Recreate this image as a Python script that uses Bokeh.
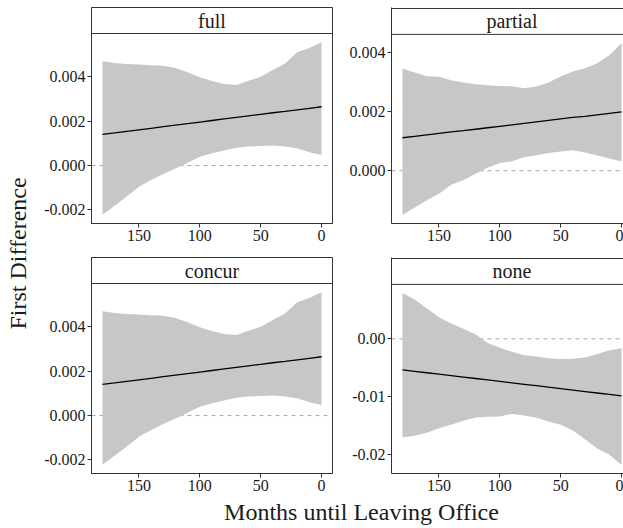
import math

from bokeh.core.properties import value
from bokeh.embed import file_html
from bokeh.layouts import column, row
from bokeh.models import FixedTicker, NumeralTickFormatter, Range1d, Span
from bokeh.plotting import figure
from bokeh.resources import INLINE

# ---------------------------------------------------------------------------
# Data: first-difference estimates with confidence band, by months left in office
# ---------------------------------------------------------------------------
months = [180, 170, 160, 150, 140, 130, 120, 110, 100, 90,
          80, 70, 60, 50, 40, 30, 20, 10, 0]

full_est = [0.00141, 0.00147, 0.00154, 0.00161, 0.00168, 0.00175, 0.00182, 0.00189, 0.00196, 0.00203,
            0.00210, 0.00217, 0.00224, 0.00231, 0.00238, 0.00244, 0.00251, 0.00258, 0.00265]
full_lo = [-0.00222, -0.00181, -0.00139, -0.00095, -0.00065, -0.00038, -0.00013, 0.00013, 0.00040, 0.00055,
           0.00068, 0.00080, 0.00086, 0.00088, 0.00090, 0.00086, 0.00078, 0.00060, 0.00048]
full_hi = [0.00470, 0.00462, 0.00458, 0.00455, 0.00452, 0.00450, 0.00440, 0.00420, 0.00398, 0.00381,
           0.00368, 0.00363, 0.00382, 0.00400, 0.00430, 0.00460, 0.00510, 0.00530, 0.00556]

partial_est = [0.00112, 0.00117, 0.00122, 0.00127, 0.00132, 0.00136, 0.00141, 0.00146, 0.00151, 0.00156,
               0.00161, 0.00166, 0.00171, 0.00176, 0.00181, 0.00185, 0.00190, 0.00195, 0.00200]
partial_lo = [-0.00150, -0.00125, -0.00100, -0.00078, -0.00048, -0.00032, -0.00010, 0.00010, 0.00026, 0.00032,
              0.00046, 0.00053, 0.00060, 0.00065, 0.00070, 0.00062, 0.00052, 0.00042, 0.00031]
partial_hi = [0.00347, 0.00334, 0.00321, 0.00319, 0.00307, 0.00300, 0.00294, 0.00290, 0.00288, 0.00287,
              0.00280, 0.00286, 0.00300, 0.00320, 0.00337, 0.00348, 0.00365, 0.00392, 0.00434]

concur_est = [0.00141, 0.00147, 0.00154, 0.00161, 0.00168, 0.00175, 0.00182, 0.00189, 0.00196, 0.00203,
              0.00210, 0.00217, 0.00224, 0.00231, 0.00238, 0.00244, 0.00251, 0.00258, 0.00265]
concur_lo = [-0.00222, -0.00181, -0.00139, -0.00095, -0.00065, -0.00038, -0.00013, 0.00013, 0.00040, 0.00055,
             0.00068, 0.00080, 0.00086, 0.00088, 0.00090, 0.00086, 0.00078, 0.00060, 0.00048]
concur_hi = [0.00470, 0.00462, 0.00458, 0.00455, 0.00452, 0.00450, 0.00440, 0.00420, 0.00398, 0.00381,
             0.00368, 0.00363, 0.00382, 0.00400, 0.00430, 0.00460, 0.00510, 0.00530, 0.00556]

none_est = [-0.00537, -0.00562, -0.00587, -0.00612, -0.00637, -0.00662, -0.00687, -0.00712, -0.00737, -0.00762,
            -0.00787, -0.00812, -0.00838, -0.00863, -0.00888, -0.00913, -0.00938, -0.00963, -0.00988]
none_lo = [-0.01710, -0.01680, -0.01625, -0.01550, -0.01490, -0.01420, -0.01362, -0.01350, -0.01347, -0.01300,
           -0.01330, -0.01365, -0.01430, -0.01490, -0.01590, -0.01740, -0.01900, -0.02010, -0.02184]
none_hi = [0.00795, 0.00680, 0.00530, 0.00375, 0.00265, 0.00175, 0.00080, -0.00070, -0.00155, -0.00225,
           -0.00285, -0.00305, -0.00335, -0.00350, -0.00345, -0.00322, -0.00262, -0.00198, -0.00163]

x_ticks = [150, 100, 50, 0]
y_ticks_small = [-0.002, 0.0, 0.002, 0.004]
y_ticks_none = [-0.02, -0.01, 0.0]

x_title = "Months until Leaving Office"
y_title = "First Difference"

# ---------------------------------------------------------------------------
# Styling / geometry
# ---------------------------------------------------------------------------
FONT = "Liberation Serif"
AXIS_FONT = '"Liberation Serif", serif'
TEXT_COLOR = "#1a1a1a"
FRAME_COLOR = "#333333"
BAND_COLOR = "#c7c7c7"
ZERO_COLOR = "#a6a6a6"

PANEL_PX = 190          # height of the plotting area below the strip
STRIP_PX = 26           # height of the facet strip
FIG_H = 250
LEFT_W, RIGHT_W = 300, 283
BORDER_L = 51
X_START, X_END = 189.0, -9.0     # reversed month axis with padding
LEFT_FRAME_W = LEFT_W - BORDER_L - 8
RIGHT_FRAME_W = RIGHT_W - BORDER_L


def make_panel(name, est, lo, hi, yticks, yfmt, clipped):
    """One facet: band, estimate line, zero reference and strip label."""
    y_min, y_max = min(lo), max(hi)
    pad = 0.05 * (y_max - y_min)
    y0 = y_min - pad
    panel_top = y_max + pad
    per_px = (panel_top - y0) / PANEL_PX
    strip_top = panel_top + STRIP_PX * per_px

    if clipped:
        # right-hand column runs off the page edge
        x_end = X_START - (X_START - X_END) * RIGHT_FRAME_W / LEFT_FRAME_W
        y1 = strip_top + per_px
        width, border_r, border_t = RIGHT_W, 0, 6
    else:
        x_end = X_END
        y1 = strip_top
        width, border_r, border_t = LEFT_W, 8, 7

    p = figure(width=width, height=FIG_H, output_backend="svg", toolbar_location=None,
               title=None,
               x_range=Range1d(X_START, x_end), y_range=Range1d(y0, y1),
               min_border_left=BORDER_L, min_border_right=border_r,
               min_border_top=border_t, min_border_bottom=27)
    p.background_fill_color = "white"
    p.border_fill_color = "white"
    p.xgrid.visible = False
    p.ygrid.visible = False
    p.outline_line_color = None if clipped else FRAME_COLOR
    p.outline_line_width = 1

    p.add_layout(Span(location=0, dimension="width", line_color=ZERO_COLOR,
                      line_dash="4 4", line_width=1, level="underlay"))
    p.varea(x=months, y1=lo, y2=hi, fill_color=BAND_COLOR, fill_alpha=1.0)
    p.line(x=months, y=est, line_color="black", line_width=1.3)

    # facet strip
    p.add_layout(Span(location=panel_top, dimension="width",
                      line_color=FRAME_COLOR, line_width=1))
    if clipped:
        p.add_layout(Span(location=strip_top, dimension="width",
                          line_color=FRAME_COLOR, line_width=1))
    p.text(x=[(X_START + X_END) / 2], y=[panel_top + 13 * per_px],
           text=[name], text_align="center", text_baseline="alphabetic",
           text_font=value(FONT), text_font_size="20px", text_color=TEXT_COLOR)

    for ax in (p.xaxis[0], p.yaxis[0]):
        ax.axis_line_color = FRAME_COLOR
        ax.axis_line_width = 1
        ax.major_tick_line_color = FRAME_COLOR
        ax.major_tick_out = 4
        ax.major_tick_in = 0
        ax.minor_tick_line_color = None
        ax.major_label_text_font = AXIS_FONT
        ax.major_label_text_font_size = "16px"
        ax.major_label_text_color = TEXT_COLOR
        ax.major_label_standoff = 2
    p.xaxis.ticker = FixedTicker(ticks=x_ticks)
    p.yaxis.ticker = FixedTicker(ticks=yticks)
    p.yaxis.formatter = NumeralTickFormatter(format=yfmt)
    return p


p_full = make_panel("full", full_est, full_lo, full_hi, y_ticks_small, "0.000", False)
p_partial = make_panel("partial", partial_est, partial_lo, partial_hi, y_ticks_small, "0.000", True)
p_concur = make_panel("concur", concur_est, concur_lo, concur_hi, y_ticks_small, "0.000", False)
p_none = make_panel("none", none_est, none_lo, none_hi, y_ticks_none, "0.00", True)


def blank(width, height):
    f = figure(width=width, height=height, output_backend="svg", toolbar_location=None,
               title=None,
               x_range=Range1d(0, width), y_range=Range1d(0, height),
               min_border=0)
    f.axis.visible = False
    f.grid.visible = False
    f.outline_line_color = None
    f.background_fill_color = "white"
    f.border_fill_color = "white"
    return f


y_lab = blank(40, 2 * FIG_H)
y_lab.text(x=[17], y=[2 * FIG_H - 253], text=[y_title], angle=math.pi / 2,
           text_align="center", text_baseline="alphabetic",
           text_font=value(FONT), text_font_size="24px", text_color=TEXT_COLOR)

x_lab = blank(623, 28)
x_lab.text(x=[361], y=[28 - 11], text=[x_title], text_align="center",
           text_baseline="alphabetic", text_font=value(FONT),
           text_font_size="24px", text_color=TEXT_COLOR)

layout = column(
    row(y_lab, column(row(p_full, p_partial), row(p_concur, p_none))),
    x_lab,
)

open("out.html", "w").write(file_html(layout, INLINE))
